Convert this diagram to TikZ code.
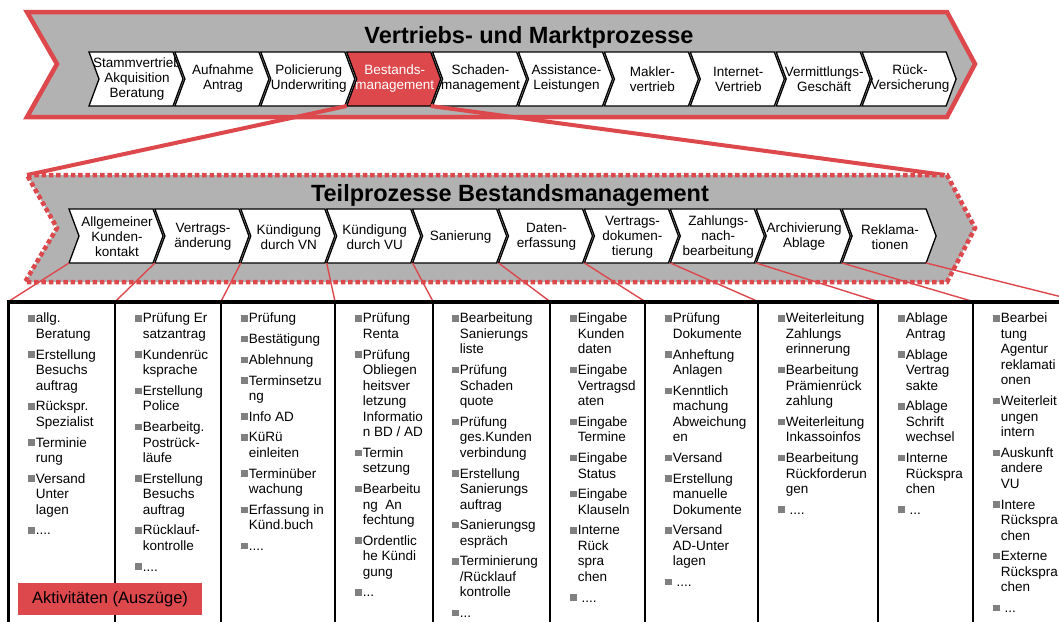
\documentclass[tikz,border=0pt]{standalone}
\usepackage{fontspec}
\setmainfont{Liberation Sans}
\definecolor{bmred}{RGB}{221, 72, 76}
\definecolor{bandgray}{RGB}{178, 178, 178}
\definecolor{bulgray}{RGB}{128, 128, 128}
\usetikzlibrary{positioning}
\newcommand{\bul}{\textcolor{bulgray}{\raisebox{1.3pt}{\rule{6.5pt}{6.5pt}}}\hspace{1.2pt}}
\newcommand{\ein}{\hspace*{7.7pt}}

\begin{document}
\begin{tikzpicture}[x=1pt, y=-1pt,
  band/.style={fill=bandgray, draw=bmred, line width=4.5pt, line join=miter},
  chev/.style={draw=black, line width=1.3pt, line join=miter},
  chevtext/.style={align=center, inner sep=0pt, font=\fontsize{13.5}{15}\selectfont},
  bandtitle/.style={inner sep=0pt, font=\fontsize{23.5}{28}\selectfont\bfseries},
  zoomline/.style={draw=bmred, line width=4pt},
  thinline/.style={draw=bmred, line width=1.4pt},
  akt/.style={anchor=north west, align=left, inner sep=0pt, font=\fontsize{13.5}{15.5}\selectfont}
]
  \useasboundingbox (0,0) rectangle (1059,621);
  \clip (0,0) rectangle (1059,621);

  % Vertriebs- und Marktprozesse
  \path[band] (27,12) -- (947,12) -- (975,64) -- (947,117) -- (27,117) -- (57,64) -- cycle;
  \node[bandtitle] (vmtitle) at (529,37) {Vertriebs- und Marktprozesse};
  \foreach \i/\fc/\tc/\txt in {0/white/black/{Stammvertrieb\\Akquisition\\Beratung},
      1/white/black/{Aufnahme\\Antrag}, 2/white/black/{Policierung\\Underwriting},
      3/bmred/white/{Bestands-\\management}, 4/white/black/{Schaden-\\management},
      5/white/black/{Assistance-\\Leistungen}, 6/white/black/{Makler-\\vertrieb},
      7/white/black/{Internet-\\Vertrieb}, 8/white/black/{Vermittlungs-\\Geschäft},
      9/white/black/{Rück-\\Versicherung}} {
    \pgfmathsetmacro{\xa}{89+85.9*\i}
    \draw[chev, fill=\fc] (\xa,52) -- ++(84,0) -- ++(10,27) -- ++(-10,27) -- ++(-84,0) -- ++(10,-27) -- cycle;
    \node[chevtext, text=\tc] (vm\i) at (\xa+48,79) {\txt};
    \coordinate (vm\i-sw) at (\xa,106);
    \coordinate (vm\i-se) at (\xa+84,106);
  }

  % Zoom
  \coordinate (tp-nw) at (27,175);
  \coordinate (tp-ne) at (945,175);
  \draw[zoomline] (vm3-sw) -- (tp-nw);
  \draw[zoomline] (vm3-se) -- (tp-ne);

  % Teilprozesse Bestandsmanagement
  \path[band, dash pattern=on 4.5pt off 2.8pt] (27,175) -- (947,175) -- (975,228) -- (947,282) -- (25,282) -- (57,228) -- cycle;
  \node[bandtitle] (tptitle) at (510,195) {Teilprozesse Bestandsmanagement};
  \foreach \i/\txt in {0/{Allgemeiner\\Kunden-\\kontakt}, 1/{Vertrags-\\änderung},
      2/{Kündigung\\durch VN}, 3/{Kündigung\\durch VU}, 4/{Sanierung},
      5/{Daten-\\erfassung}, 6/{Vertrags-\\dokumen-\\tierung},
      7/{Zahlungs-\\nach-\\bearbeitung}, 8/{Archivierung\\Ablage}, 9/{Reklama-\\tionen}} {
    \pgfmathsetmacro{\xa}{69+85.9*\i}
    \draw[chev, fill=white] (\xa,209) -- ++(84,0) -- ++(10,27) -- ++(-10,27) -- ++(-84,0) -- ++(10,-27) -- cycle;
    \node[chevtext] (tp\i) at (\xa+48,237) {\txt};
    \coordinate (tp\i-sw) at (\xa,263);
    \coordinate (tp\i-se) at (\xa+84,263);
  }

  % Aktivitaeten
  \foreach \i/\cx in {0/8.5, 1/115.3, 2/221, 3/335, 4/433, 5/550, 6/645, 7/758, 8/878, 9/973, 10/1080}
    \coordinate (col\i) at (\cx,301.5);
  \foreach \i in {0,...,9} \draw[thinline] (tp\i-sw) -- (col\i);
  \draw[thinline] (tp9-se) -- (col10);
  \draw[line width=2.7pt] (col0) -- ++(0,330);
  \foreach \i in {1,...,10} \draw[line width=2pt] (col\i) -- ++(0,330);
  \draw[line width=4pt] ([xshift=-1.35pt]col0) -- (col10);

  \node[akt] (akt0) at (28,313) {\bul allg.\\\ein Beratung\\[5.2pt]\bul Erstellung\\\ein Besuchs\\\ein auftrag\\[5.2pt]\bul Rückspr.\\\ein Spezialist\\[5.2pt]\bul Terminie\\\ein rung\\[5.2pt]\bul Versand\\\ein Unter\\\ein lagen\\[5.2pt]\bul....};
  \node[akt] (akt1) at (135,313) {\bul Prüfung Er\\\ein satzantrag\\[5.2pt]\bul Kundenrüc\\\ein ksprache\\[5.2pt]\bul Erstellung\\\ein Police\\[5.2pt]\bul Bearbeitg.\\\ein Postrück-\\\ein läufe\\[5.2pt]\bul Erstellung\\\ein Besuchs\\\ein auftrag\\[5.2pt]\bul Rücklauf-\\\ein kontrolle\\[5.2pt]\bul....};
  \node[akt] (akt2) at (241,313) {\bul Prüfung\\[5.2pt]\bul Bestätigung\\[5.2pt]\bul Ablehnung\\[5.2pt]\bul Terminsetzu\\\ein ng\\[5.2pt]\bul Info AD\\[5.2pt]\bul KüRü\\\ein einleiten\\[5.2pt]\bul Terminüber\\\ein wachung\\[5.2pt]\bul Erfassung in\\\ein Künd.buch\\[5.2pt]\bul....};
  \node[akt] (akt3) at (355,313) {\bul Prüfung\\\ein Renta\\[5.2pt]\bul Prüfung\\\ein Obliegen\\\ein heitsver\\\ein letzung\\\ein Informatio\\\ein n BD / AD\\[5.2pt]\bul Termin\\\ein setzung\\[5.2pt]\bul Bearbeitu\\\ein ng \ An\\\ein fechtung\\[5.2pt]\bul Ordentlic\\\ein he Kündi\\\ein gung\\[5.2pt]\bul...};
  \node[akt] (akt4) at (452,313) {\bul Bearbeitung\\\ein Sanierungs\\\ein liste\\[5.2pt]\bul Prüfung\\\ein Schaden\\\ein quote\\[5.2pt]\bul Prüfung\\\ein ges.Kunden\\\ein verbindung\\[5.2pt]\bul Erstellung\\\ein Sanierungs\\\ein auftrag\\[5.2pt]\bul Sanierungsg\\\ein espräch\\[5.2pt]\bul Terminierung\\\ein /Rücklauf\\\ein kontrolle\\[5.2pt]\bul...};
  \node[akt] (akt5) at (570,313) {\bul Eingabe\\\ein Kunden\\\ein daten\\[5.2pt]\bul Eingabe\\\ein Vertragsd\\\ein aten\\[5.2pt]\bul Eingabe\\\ein Termine\\[5.2pt]\bul Eingabe\\\ein Status\\[5.2pt]\bul Eingabe\\\ein Klauseln\\[5.2pt]\bul Interne\\\ein Rück\\\ein spra\\\ein chen\\[5.2pt]\bul\ ....};
  \node[akt] (akt6) at (665,313) {\bul Prüfung\\\ein Dokumente\\[5.2pt]\bul Anheftung\\\ein Anlagen\\[5.2pt]\bul Kenntlich\\\ein machung\\\ein Abweichung\\\ein en\\[5.2pt]\bul Versand\\[5.2pt]\bul Erstellung\\\ein manuelle\\\ein Dokumente\\[5.2pt]\bul Versand\\\ein AD-Unter\\\ein lagen\\[5.2pt]\bul\ ....};
  \node[akt] (akt7) at (778,313) {\bul Weiterleitung\\\ein Zahlungs\\\ein erinnerung\\[5.2pt]\bul Bearbeitung\\\ein Prämienrück\\\ein zahlung\\[5.2pt]\bul Weiterleitung\\\ein Inkassoinfos\\[5.2pt]\bul Bearbeitung\\\ein Rückforderun\\\ein gen\\[5.2pt]\bul\ ....};
  \node[akt] (akt8) at (898,313) {\bul Ablage\\\ein Antrag\\[5.2pt]\bul Ablage\\\ein Vertrag\\\ein sakte\\[5.2pt]\bul Ablage\\\ein Schrift\\\ein wechsel\\[5.2pt]\bul Interne\\\ein Rückspra\\\ein chen\\[5.2pt]\bul\ ...};
  \node[akt] (akt9) at (993,313) {\bul Bearbei\\\ein tung\\\ein Agentur\\\ein reklamati\\\ein onen\\[5.2pt]\bul Weiterleit\\\ein ungen\\\ein intern\\[5.2pt]\bul Auskunft\\\ein andere\\\ein VU\\[5.2pt]\bul Intere\\\ein Rückspra\\\ein chen\\[5.2pt]\bul Externe\\\ein Rückspra\\\ein chen\\[5.2pt]\bul\ ...};

  % Legende
  \node[fill=bmred, minimum width=184pt, minimum height=32pt, inner sep=0pt, font=\fontsize{16.5}{18}\selectfont] (legende) at (110,599) {Aktivitäten (Auszüge)};
\end{tikzpicture}
\end{document}
